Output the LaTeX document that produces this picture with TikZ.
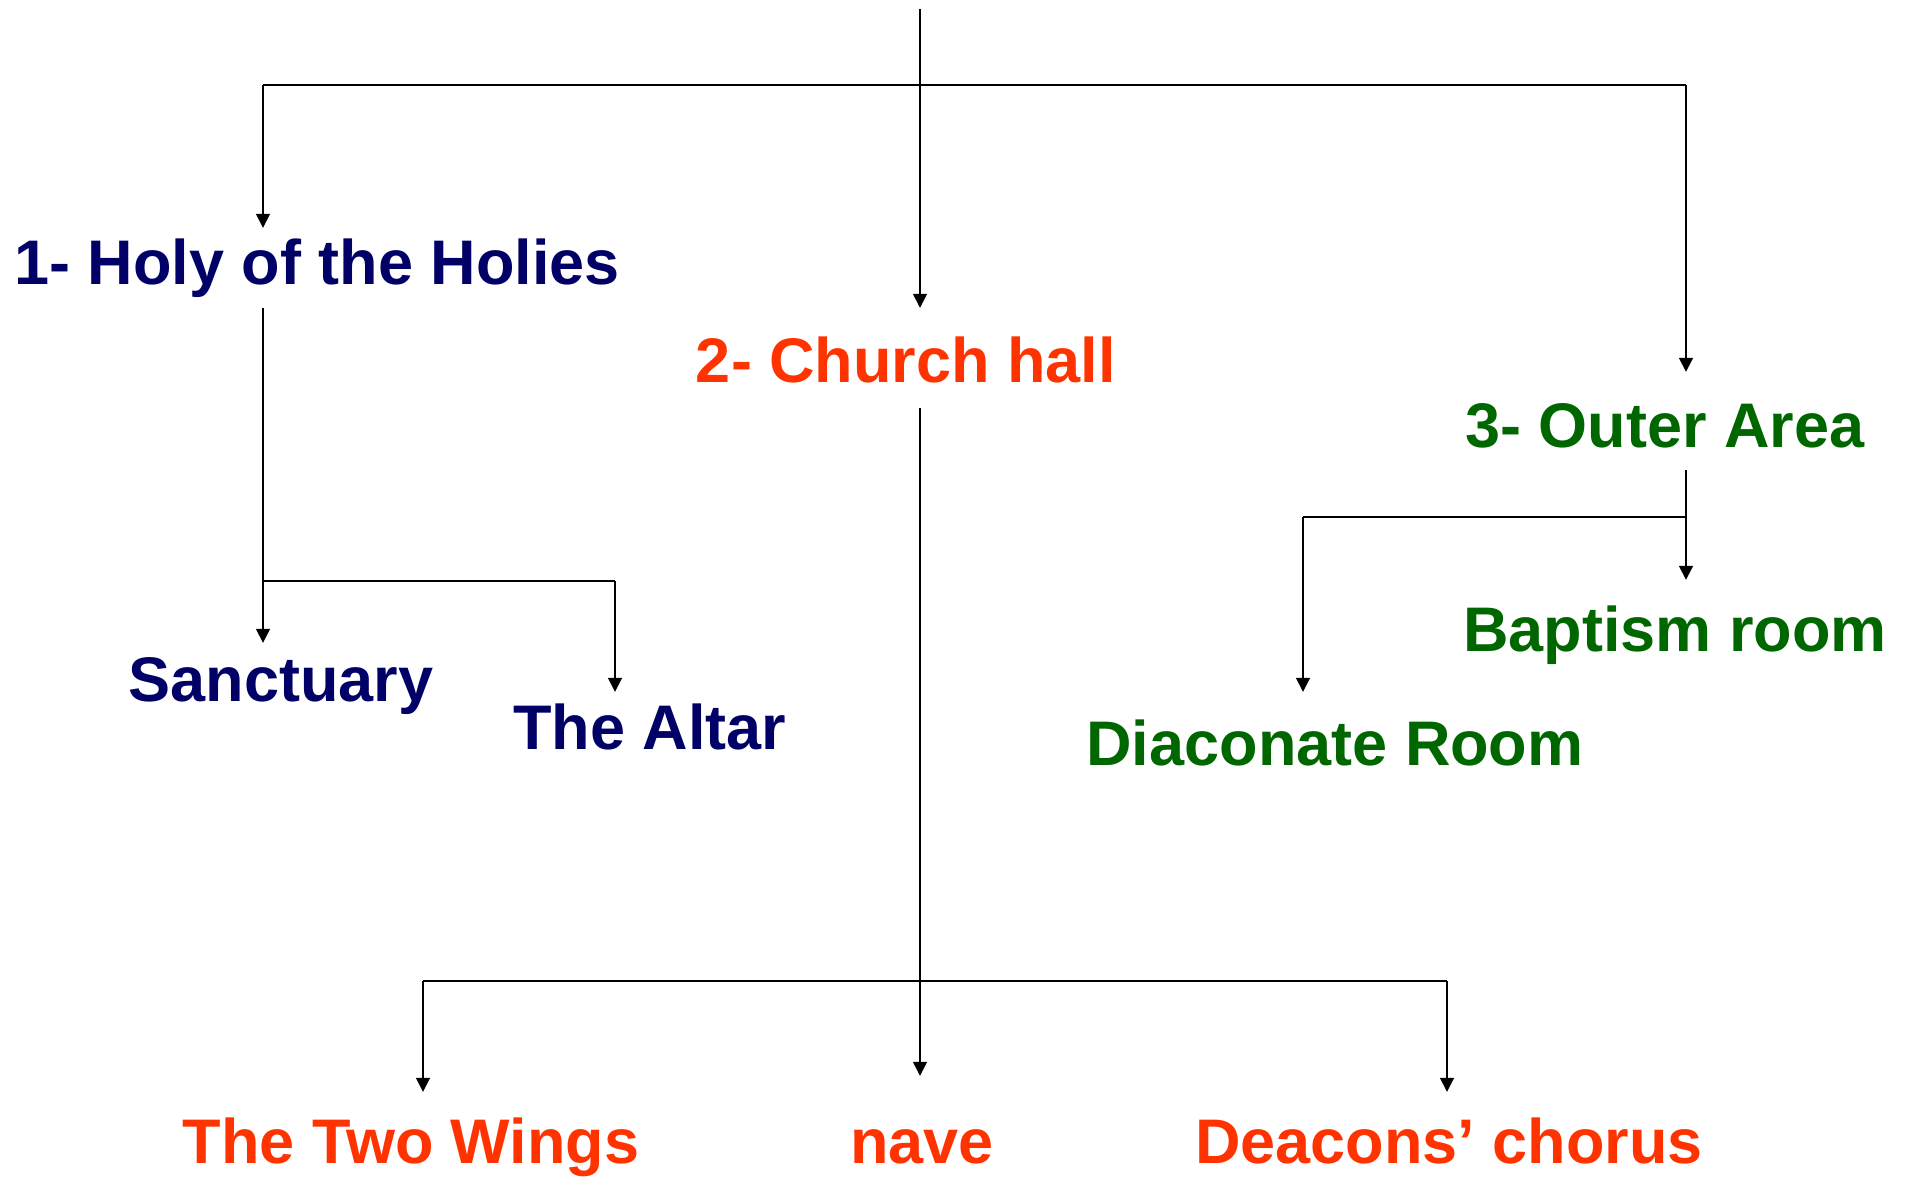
\documentclass[tikz,border=0pt]{standalone}
\usepackage{fontspec}
\setmainfont{Liberation Sans}
\usetikzlibrary{arrows.meta}
\definecolor{holynavy}{RGB}{0,0,102}
\definecolor{hallred}{RGB}{255,51,0}
\definecolor{outergreen}{RGB}{0,102,0}

\begin{document}
\begin{tikzpicture}[x=1pt, y=-1pt,
    link/.style={line width=1.7pt},
    arr/.style={link, -{Triangle[width=14pt,length=14pt]}},
    part/.style={font=\fontsize{63}{72}\selectfont\bfseries, inner sep=0pt,
        text height=46pt, text depth=14pt, anchor=base}]
    \useasboundingbox (0,0) rectangle (1910,1178);

    % the three parts
    \node[part, text=holynavy] (holy) at (317,284) {1- Holy of the Holies};
    \node[part, text=hallred] (hall) at (906,382) {2- Church hall};
    \node[part, text=outergreen] (outer) at (1665,447) {3- Outer Area};

    \node[part, text=holynavy] (sanct) at (281,701) {Sanctuary};
    \node[part, text=holynavy] (altar) at (650,749) {The Altar};
    \node[part, text=outergreen] (baptism) at (1675,651) {Baptism room};
    \node[part, text=outergreen] (diacon) at (1335,765) {Diaconate Room};
    \node[part, text=hallred] (wings) at (411,1163) {The Two Wings};
    \node[part, text=hallred] (nave) at (922,1163) {nave};
    \node[part, text=hallred] (deacons) at (1449,1163) {Deacons’ chorus};

    % branch points
    \coordinate (root) at (920,9);
    \coordinate (hub) at (920,85);
    \coordinate (hubl) at (263,85);
    \coordinate (hubr) at (1686,85);
    \coordinate (holyj) at (263,581);
    \coordinate (holyr) at (615,581);
    \coordinate (hallj) at (920,981);
    \coordinate (halll) at (423,981);
    \coordinate (hallr) at (1447,981);
    \coordinate (outerj) at (1686,517);
    \coordinate (outerl) at (1303,517);

    \draw[link] (root) -- (hub);
    \draw[link] (hubl) -- (hubr);
    \draw[arr, shorten >=10pt] (hubl) -- (hubl |- holy.north);
    \draw[arr, shorten >=28pt] (hub) -- (hub |- hall.north);
    \draw[arr, shorten >=29pt] (hubr) -- (hubr |- outer.north);

    \draw[link, shorten <=10pt] (hubl |- holy.south) -- (holyj);
    \draw[arr, shorten >=12pt] (holyj) -- (holyj |- sanct.north);
    \draw[link] (holyj) -- (holyr);
    \draw[arr, shorten >=11pt] (holyr) -- (holyr |- altar.north);

    \draw[link, shorten <=12pt] (hub |- hall.south) -- (hallj);
    \draw[link] (halll) -- (hallr);
    \draw[arr, shorten >=25pt] (halll) -- (halll |- wings.north);
    \draw[arr, shorten >=41pt] (hallj) -- (hallj |- nave.north);
    \draw[arr, shorten >=25pt] (hallr) -- (hallr |- deacons.north);

    \draw[link, shorten <=9pt] (hubr |- outer.south) -- (outerj);
    \draw[arr, shorten >=25pt] (outerj) -- (outerj |- baptism.north);
    \draw[link] (outerj) -- (outerl);
    \draw[arr, shorten >=27pt] (outerl) -- (outerl |- diacon.north);
\end{tikzpicture}
\end{document}
